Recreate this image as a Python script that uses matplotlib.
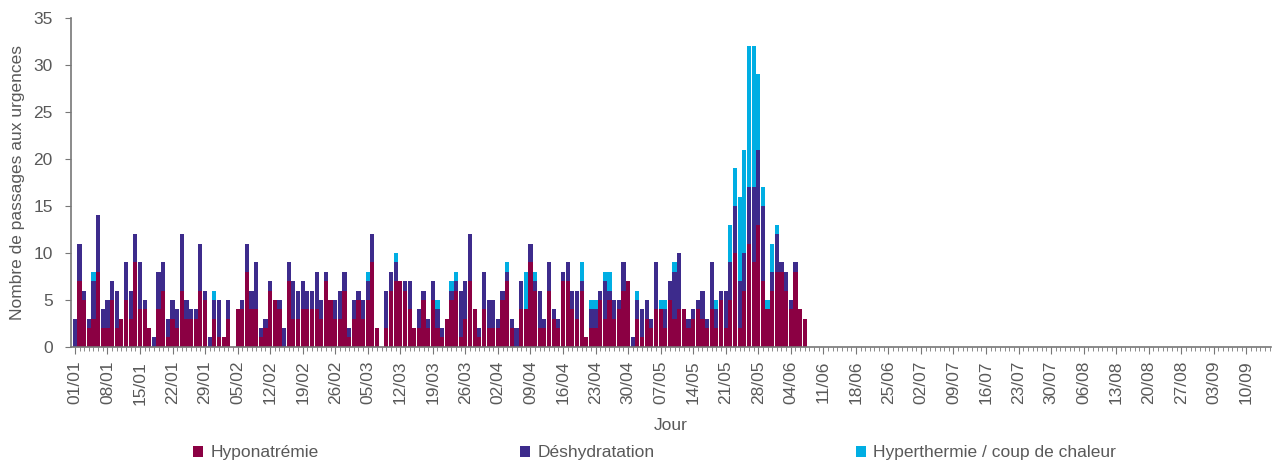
import matplotlib
matplotlib.use("Agg")
import matplotlib.pyplot as plt
from matplotlib.patches import Patch
import numpy as np
import datetime

plt.rcParams['font.family'] = ['Liberation Sans', 'DejaVu Sans']

# daily counts from 01/01, one value per day
start = datetime.date(2019, 1, 1)
hyponatremie = [0, 7, 5, 2, 3, 8, 2, 2, 5, 2, 3, 5, 3, 9, 4, 4, 2, 0, 4, 6,
                1, 3, 2, 6, 3, 3, 3, 6, 5, 0, 3, 1, 1, 3, 0, 4, 4, 8, 4, 4,
                1, 2, 6, 5, 4, 0, 7, 3, 3, 4, 4, 4, 4, 3, 7, 5, 3, 3, 6, 1,
                3, 5, 3, 5, 9, 2, 0, 2, 6, 7, 7, 6, 4, 2, 2, 5, 2, 5, 2, 1,
                3, 5, 6, 1, 3, 7, 4, 1, 4, 2, 2, 2, 5, 7, 2, 0, 4, 4, 9, 6,
                2, 2, 6, 3, 2, 7, 7, 4, 3, 6, 1, 2, 2, 5, 3, 5, 3, 4, 6, 7,
                0, 3, 1, 3, 2, 4, 4, 2, 5, 3, 4, 4, 2, 3, 4, 3, 2, 4, 2, 5,
                2, 5, 10, 2, 6, 11, 9, 13, 7, 4, 6, 8, 8, 6, 4, 8, 4, 3]
deshydratation = [3, 4, 1, 1, 4, 6, 2, 3, 2, 4, 0, 4, 3, 3, 5, 1, 0, 1, 4, 3,
                  2, 2, 2, 6, 2, 1, 1, 5, 1, 1, 2, 4, 0, 2, 0, 0, 1, 3, 2, 5,
                  1, 1, 1, 0, 1, 2, 2, 4, 3, 3, 2, 2, 4, 2, 1, 0, 2, 3, 2, 1,
                  2, 1, 2, 2, 3, 0, 0, 4, 2, 2, 0, 1, 3, 0, 2, 1, 1, 2, 2, 1,
                  0, 1, 1, 5, 4, 5, 0, 1, 4, 3, 3, 1, 1, 1, 1, 2, 3, 0, 2, 1,
                  4, 1, 3, 1, 1, 1, 2, 2, 3, 1, 0, 2, 2, 1, 4, 1, 2, 1, 3, 0,
                  1, 2, 3, 2, 1, 5, 0, 2, 2, 5, 6, 0, 1, 1, 1, 3, 1, 5, 2, 1,
                  4, 4, 5, 5, 4, 6, 8, 8, 8, 0, 2, 4, 1, 2, 1, 1, 0, 0]
hyperthermie = [0, 0, 0, 0, 1, 0, 0, 0, 0, 0, 0, 0, 0, 0, 0, 0, 0, 0, 0, 0,
                0, 0, 0, 0, 0, 0, 0, 0, 0, 0, 1, 0, 0, 0, 0, 0, 0, 0, 0, 0,
                0, 0, 0, 0, 0, 0, 0, 0, 0, 0, 0, 0, 0, 0, 0, 0, 0, 0, 0, 0,
                0, 0, 0, 1, 0, 0, 0, 0, 0, 1, 0, 0, 0, 0, 0, 0, 0, 0, 1, 0,
                0, 1, 1, 0, 0, 0, 0, 0, 0, 0, 0, 0, 0, 1, 0, 0, 0, 4, 0, 1,
                0, 0, 0, 0, 0, 0, 0, 0, 0, 2, 0, 1, 1, 0, 1, 2, 0, 0, 0, 0,
                0, 1, 0, 0, 0, 0, 1, 1, 0, 1, 0, 0, 0, 0, 0, 0, 0, 0, 1, 0,
                0, 4, 4, 9, 11, 15, 15, 8, 2, 1, 3, 1, 0, 0, 0, 0, 0, 0]
labels = ['Hyponatrémie', 'Déshydratation', 'Hyperthermie / coup de chaleur']
colors = ['#8B0043', '#3D2B8C', '#00AEE3']
n_days_axis = 258

hypo = np.array(hyponatremie)
desh = np.array(deshydratation)
hyper = np.array(hyperthermie)
days = np.arange(len(hypo))

fig = plt.figure(figsize=(12.74, 4.65), dpi=100)
ax = fig.add_axes([0.0555, 0.254, 0.9425, 0.707])

w = 0.9
ax.bar(days, hypo, width=w, color=colors[0], linewidth=0)
ax.bar(days, desh, width=w, bottom=hypo, color=colors[1], linewidth=0)
ax.bar(days, hyper, width=w, bottom=hypo + desh, color=colors[2], linewidth=0)

gray = '#595959'
ax.set_ylim(0, 35)
ax.set_yticks(range(0, 36, 5))
ax.set_xlim(-0.9, n_days_axis - 0.6)
major = np.arange(0, n_days_axis, 7)
ax.set_xticks(major)
ax.set_xticklabels([(start + datetime.timedelta(days=int(d))).strftime('%d/%m') for d in major],
                   rotation=90)
ax.set_xticks(np.arange(0, n_days_axis), minor=True)

for s in ['top', 'right']:
    ax.spines[s].set_visible(False)
for s in ['left', 'bottom']:
    ax.spines[s].set_color('#777777')
    ax.spines[s].set_linewidth(1.2)
ax.tick_params(axis='both', which='major', colors='#777777', labelcolor=gray, labelsize=12.5)
ax.tick_params(axis='y', length=4, pad=9)
ax.tick_params(axis='x', which='major', length=5, pad=5)
ax.tick_params(axis='x', which='minor', length=3, colors='#777777')

ax.set_ylabel('Nombre de passages aux urgences', fontsize=12.5, color=gray, labelpad=6)
ax.set_xlabel('Jour', fontsize=12.5, color=gray, labelpad=10)

handles = [Patch(facecolor=c, edgecolor='none') for c in colors]
fig.legend(handles, labels, loc='center left', bbox_to_anchor=(193 / 1274, 0.026),
           ncol=3, frameon=False, fontsize=12.5, handlelength=0.6, handleheight=0.6,
           handletextpad=0.4, columnspacing=11.6, borderaxespad=0, borderpad=0,
           labelcolor=gray)

fig.savefig('out.png', dpi=100)
